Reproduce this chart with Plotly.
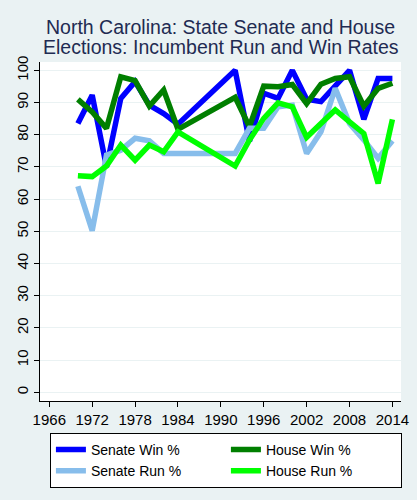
import plotly.graph_objects as go

# election years (no data for 1986-1990, lines jump straight across)
years = [1970, 1972, 1974, 1976, 1978, 1980, 1982, 1984,
         1992, 1994, 1996, 1998, 2000, 2002, 2004, 2006, 2008, 2010, 2012, 2014]

senate_win = [83.5, 92.3, 70.0, 91.3, 96.5, 89.2, 86.6, 83.3,
              100.0, 78.0, 92.9, 91.3, 100.0, 91.0, 90.3, 95.4, 100.0, 84.8, 97.5, 97.5]
house_win = [91.0, 87.1, 82.0, 98.0, 96.8, 88.9, 93.9, 81.7,
             91.6, 82.5, 95.1, 94.9, 95.6, 89.7, 95.7, 97.5, 98.0, 88.9, 94.4, 96.0]
senate_run = [64.0, 50.2, 73.7, 75.2, 78.9, 78.1, 74.2, 74.2,
              74.2, 82.0, 82.0, 88.7, 89.2, 74.2, 80.9, 94.4, 83.5, 78.4, 72.7, 78.1]
house_run = [67.3, 67.0, 70.3, 76.8, 72.1, 76.8, 74.7, 80.9,
             70.3, 78.4, 85.1, 89.9, 88.7, 79.2, 83.5, 87.7, 84.0, 80.4, 64.9, 84.8]

series = [
    ("Senate Win %", senate_win, "#0000ff"),
    ("House Win %", house_win, "#007f00"),
    ("Senate Run %", senate_run, "#87bdeb"),
    ("House Run %", house_run, "#00ff00"),
]

title_lines = ["North Carolina: State Senate and House", "Elections: Incumbent Run and Win Rates"]

x_ticks = list(range(1966, 2015, 6))
y_ticks = list(range(0, 101, 10))

bg = "#eaf2f3"
font = "Liberation Sans, Arial, sans-serif"

fig = go.Figure()
for name, vals, color in series:
    fig.add_trace(
        go.Scatter(
            x=years,
            y=vals,
            mode="lines",
            name=name,
            line={"color": color, "width": 5.5},
        )
    )

# two title lines as separate annotations so the line spacing stays tight
for i, line in enumerate(title_lines):
    fig.add_annotation(
        text=line,
        xref="paper",
        yref="paper",
        x=0.5,
        xanchor="center",
        y=1 + (22 - 20 * i) / 339,
        yanchor="bottom",
        showarrow=False,
        font={"family": font, "size": 19.5, "color": "#1f2b52"},
    )

axis_common = {
    "zeroline": False,
    "showline": True,
    "linecolor": "black",
    "linewidth": 1,
    "ticks": "outside",
    "ticklen": 5,
    "tickcolor": "black",
    "tickfont": {"size": 15},
    "automargin": False,
}

fig.update_layout(
    width=417,
    height=500,
    paper_bgcolor=bg,
    plot_bgcolor="white",
    margin={"l": 40, "r": 16, "t": 62, "b": 99},
    font={"family": font, "size": 15, "color": "black"},
    xaxis={
        **axis_common,
        "range": [1964.7, 2015.2],
        "tickvals": x_ticks,
        "showgrid": False,
    },
    yaxis={
        **axis_common,
        "range": [-2.7, 102.6],
        "tickvals": y_ticks,
        "tickangle": -90,
        "showgrid": True,
        "gridcolor": bg,
        "gridwidth": 1,
    },
    legend={
        "orientation": "h",
        "x": 0.515,
        "xanchor": "center",
        "y": -0.094,
        "yanchor": "top",
        "bgcolor": "white",
        "bordercolor": "black",
        "borderwidth": 1,
        "entrywidth": 130,
        "entrywidthmode": "pixels",
        "font": {"size": 14},
        "traceorder": "normal",
        "tracegroupgap": 0,
    },
    showlegend=True,
)

# the page's default body margin would push the fixed-size figure off the window
fig.write_html(
    "out.html",
    config={"displayModeBar": False},
    post_script="document.body.style.margin = '0';",
)
